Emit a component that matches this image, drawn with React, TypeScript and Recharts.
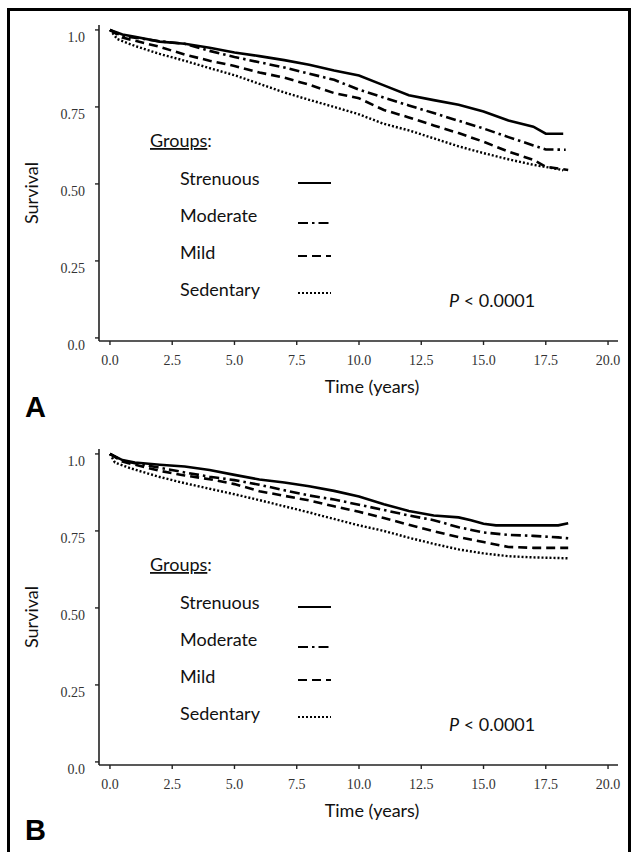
import React from 'react';
import { LineChart, Line, XAxis, YAxis, Legend, Label } from 'recharts';

// ---------- data ----------
const groups = ['Strenuous', 'Moderate', 'Mild', 'Sedentary'];
const xTicks = [0, 2.5, 5, 7.5, 10, 12.5, 15, 17.5, 20];
const xTickLabels = ['0.0', '2.5', '5.0', '7.5', '10.0', '12.5', '15.0', '17.5', '20.0'];
const yTicks = [0, 0.25, 0.5, 0.75, 1.0];
const yTickLabels = ['0.0', '0.25', '0.50', '0.75', '1.0'];
const pText = '< 0.0001';

// Panel A: [time (years), survival]
const aStrenuous = [[0, 1], [0.5, 0.985], [1, 0.978], [2, 0.962], [3, 0.955], [4, 0.942], [5, 0.927], [6, 0.915], [7, 0.902], [8, 0.887], [9, 0.868], [10, 0.852], [11, 0.82], [12, 0.788], [13, 0.772], [14, 0.757], [15, 0.735], [16, 0.706], [17, 0.686], [17.5, 0.663], [18.2, 0.663]];
const aModerate = [[0, 1], [0.5, 0.98], [1, 0.975], [2, 0.963], [3, 0.955], [4, 0.932], [5, 0.912], [6, 0.895], [7, 0.878], [8, 0.858], [9, 0.838], [10, 0.806], [11, 0.78], [12, 0.755], [13, 0.73], [14, 0.705], [15, 0.68], [16, 0.652], [17, 0.625], [17.5, 0.612], [18.3, 0.611]];
const aMild = [[0, 1], [0.5, 0.975], [1, 0.965], [2, 0.945], [3, 0.92], [4, 0.9], [5, 0.883], [6, 0.862], [7, 0.845], [8, 0.822], [9, 0.795], [10, 0.778], [11, 0.74], [12, 0.716], [13, 0.69], [14, 0.665], [15, 0.637], [16, 0.605], [17, 0.578], [17.5, 0.556], [18.4, 0.545]];
const aSedentary = [[0, 1], [0.3, 0.97], [1, 0.948], [2, 0.922], [3, 0.9], [4, 0.876], [5, 0.853], [6, 0.825], [7, 0.797], [8, 0.773], [9, 0.75], [10, 0.726], [11, 0.695], [12, 0.674], [13, 0.648], [14, 0.622], [15, 0.6], [16, 0.58], [17, 0.562], [18, 0.548], [18.2, 0.544]];

// Panel B
const bStrenuous = [[0, 1], [0.5, 0.98], [1, 0.972], [2, 0.965], [3, 0.959], [4, 0.948], [5, 0.932], [6, 0.917], [7, 0.907], [8, 0.895], [9, 0.88], [10, 0.862], [11, 0.837], [12, 0.815], [13, 0.8], [14, 0.794], [14.5, 0.785], [15, 0.773], [15.5, 0.768], [16, 0.768], [17, 0.768], [18, 0.768], [18.4, 0.775]];
const bModerate = [[0, 1], [0.5, 0.978], [1, 0.97], [2, 0.955], [3, 0.94], [4, 0.926], [5, 0.915], [6, 0.9], [7, 0.882], [8, 0.865], [9, 0.852], [10, 0.835], [11, 0.818], [12, 0.8], [13, 0.785], [14, 0.762], [15, 0.745], [16, 0.737], [17, 0.734], [18, 0.729], [18.4, 0.726]];
const bMild = [[0, 1], [0.5, 0.975], [1, 0.965], [2, 0.945], [3, 0.93], [4, 0.918], [5, 0.902], [6, 0.879], [7, 0.864], [8, 0.849], [9, 0.83], [10, 0.812], [11, 0.792], [12, 0.77], [13, 0.749], [14, 0.73], [15, 0.714], [16, 0.698], [17, 0.695], [18, 0.695], [18.4, 0.695]];
const bSedentary = [[0, 1], [0.2, 0.972], [0.8, 0.954], [2, 0.925], [3, 0.905], [4, 0.887], [5, 0.869], [6, 0.85], [7, 0.83], [8, 0.81], [9, 0.789], [10, 0.768], [11, 0.75], [12, 0.728], [13, 0.708], [14, 0.69], [15, 0.677], [16, 0.668], [17, 0.664], [18, 0.662], [18.4, 0.661]];

// ---------- styles ----------
const lineStyle: Record<string, { dash?: string; width: number }> = {
  Strenuous: { width: 2.6 },
  Moderate: { dash: '10 4 2.5 4', width: 2.6 },
  Mild: { dash: '9 5', width: 2.6 },
  Sedentary: { dash: '2 2', width: 2.4 },
};
const legendBaselines = [185, 222, 259, 296];
const legendSampleY = [183, 223, 256, 293];
const SANS = 'Lato, "Noto Sans", sans-serif';
const SERIF = '"Liberation Serif", serif';

const toRows = (arr: number[][]) => arr.map(([t, s]) => ({ t, s }));

const XTick = (props: any) => {
  const { x, y, index } = props;
  return (
    <text x={x} y={y + 13} dy="0.355em" textAnchor="middle" fontFamily={SERIF} fontSize={14} fill="#333">
      {xTickLabels[index]}
    </text>
  );
};
const YTick = (props: any) => {
  const { x, y, index } = props;
  return (
    <text x={x} y={y + 7} dy="0.355em" textAnchor="end" fontFamily={SERIF} fontSize={14} fill="#333">
      {yTickLabels[index]}
    </text>
  );
};

const LegendBox = (props: any) => {
  const payload = [...(props.payload || [])].sort(
    (a: any, b: any) => groups.indexOf(a.value) - groups.indexOf(b.value)
  );
  return (
    <svg width={634} height={424} style={{ position: 'absolute', left: 0, top: 0, overflow: 'visible' }}>
      <text x={150} y={147} fontFamily={SANS} fontSize={18} fill="#111">
        <tspan style={{ textDecoration: 'underline' }}>Groups</tspan>:
      </text>
      {payload.map((entry: any, i: number) => {
        const st = lineStyle[entry.value];
        return (
          <g key={entry.value}>
            <text x={180} y={legendBaselines[i]} fontFamily={SANS} fontSize={18} fill="#111">
              {entry.value}
            </text>
            <line x1={298} x2={331} y1={legendSampleY[i]} y2={legendSampleY[i]} stroke="#000"
              strokeWidth={st.width - 0.6} strokeDasharray={st.dash} />
          </g>
        );
      })}
      <text x={449} y={307} fontFamily={SANS} fontSize={18} fill="#111">
        <tspan fontStyle="italic">P</tspan> {pText}
      </text>
    </svg>
  );
};

function Panel({ series, letter, top, letterTop }: { series: number[][][]; letter: string; top: number; letterTop: number }) {
  return (
    <div style={{ position: 'absolute', left: 0, top, width: 634, height: 424 }}>
      <LineChart width={634} height={424} margin={{ top: 25, right: 16, bottom: 0, left: 0 }}>
        <XAxis dataKey="t" type="number" domain={[-0.44, 20.4]} ticks={xTicks} height={83}
          axisLine={{ stroke: '#222', strokeWidth: 1.6 }} tickLine={{ stroke: '#222', strokeWidth: 1.4 }}
          tickSize={4} tick={<XTick />} interval={0}>
          <Label content={(p: any) => {
            const vb = p.viewBox;
            return (
              <text x={vb.x + 273} y={vb.y + 46} dy="0.355em" textAnchor="middle" fontFamily={SANS} fontSize={18} fill="#111">
                Time (years)
              </text>
            );
          }} />
        </XAxis>
        <YAxis type="number" domain={[-0.01, 1.016]} ticks={yTicks} width={99}
          axisLine={{ stroke: '#222', strokeWidth: 1.6 }} tickLine={{ stroke: '#222', strokeWidth: 1.4 }}
          tickSize={4} tickMargin={10} tick={<YTick />} interval={0}>
          <Label content={(p: any) => {
            const vb = p.viewBox;
            const cx = 32;
            const cy = vb.y + vb.height / 2 + 10;
            return (
              <text x={cx} y={cy} dy="0.355em" textAnchor="middle" fontFamily={SANS} fontSize={18} fill="#111"
                transform={`rotate(-90 ${cx} ${cy})`}>
                Survival
              </text>
            );
          }} />
        </YAxis>
        <XAxis xAxisId="top" orientation="top" type="number" domain={[0, 1]} height={0} tick={false}
          tickLine={false} axisLine={{ stroke: '#555', strokeWidth: 1.3 }} />
        <YAxis yAxisId="right" orientation="right" type="number" domain={[0, 1]} width={0} tick={false}
          tickLine={false} axisLine={{ stroke: '#555', strokeWidth: 1.3 }} />
        {series.map((d, i) => {
          const name = groups[i];
          const st = lineStyle[name];
          return (
            <Line key={name} name={name} data={toRows(d)} dataKey="s" type="linear" stroke="#000"
              strokeWidth={st.width} strokeDasharray={st.dash} dot={false} activeDot={false}
              isAnimationActive={false} />
          );
        })}
        <Legend layout="vertical" align="center" verticalAlign="middle" content={<LegendBox />}
          wrapperStyle={{ left: 0, top: 0, width: 634, height: 424, pointerEvents: 'none' }} />
      </LineChart>
      <div style={{ position: 'absolute', left: 25, top: letterTop, fontFamily: '"Liberation Sans", Arial, sans-serif',
        fontWeight: 'bold', fontSize: 29, lineHeight: '29px', color: '#000' }}>
        {letter}
      </div>
    </div>
  );
}

export default function App() {
  return (
    <div style={{ position: 'fixed', left: 0, top: 0, width: 634, height: 852, background: '#fff', overflow: 'hidden' }}>
      <Panel series={[aStrenuous, aModerate, aMild, aSedentary]} letter="A" top={0} letterTop={393} />
      <Panel series={[bStrenuous, bModerate, bMild, bSedentary]} letter="B" top={424} letterTop={392} />
      <div style={{ position: 'absolute', left: 7, top: 8, width: 618, height: 900, border: '3px solid #000', pointerEvents: 'none' }} />
    </div>
  );
}
